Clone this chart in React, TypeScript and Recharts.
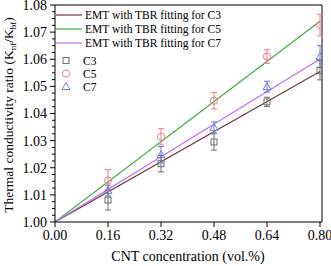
import {
  ComposedChart,
  Line,
  Scatter,
  ErrorBar,
  XAxis,
  YAxis,
  ReferenceLine,
  Legend,
} from "recharts";

const FONT = "'Liberation Serif', 'Times New Roman', serif";

// CNT concentration (vol.%)
const concentration = [0.16, 0.32, 0.48, 0.64, 0.8];

// measured ratios and error bars
const c3Values = [1.0081, 1.0215, 1.0295, 1.0443, 1.0559];
const c3Errors = [0.0037, 0.003, 0.003, 0.0017, 0.0035];
const c5Values = [1.0153, 1.0314, 1.0447, 1.061, 1.0726];
const c5Errors = [0.004, 0.003, 0.003, 0.0025, 0.004];
const c7Values = [1.0116, 1.0248, 1.0349, 1.0499, 1.061];
const c7Errors = [0.002, 0.003, 0.002, 0.002, 0.004];

// EMT with TBR fitting lines (end points)
const fitX = [0, 0.8];
const fitC3 = [1.0, 1.0555];
const fitC5 = [1.0, 1.074];
const fitC7 = [1.0, 1.0601];

const xTicks = [0, 0.16, 0.32, 0.48, 0.64, 0.8];
const yMajorTicks = [1.0, 1.01, 1.02, 1.03, 1.04, 1.05, 1.06, 1.07, 1.08];

const X_MAX = 0.806;

const colors = {
  c3Line: "#6e3d3d",
  c5Line: "#3fae3f",
  c7Line: "#c46ef2",
  c3: "#6f6f6f",
  c5: "#f07c8c",
  c7: "#6a82e0",
};

const yTicks: number[] = [];
yMajorTicks.forEach((t, i) => {
  yTicks.push(t);
  if (i < yMajorTicks.length - 1) {
    for (let k = 1; k < 4; k++) yTicks.push(+(t + k * 0.0025).toFixed(4));
  }
});

const toPoints = (vals: number[], errs: number[]) =>
  concentration.map((x, i) => ({ x, y: vals[i], err: errs[i] }));

const c3Data = toPoints(c3Values, c3Errors);
const c5Data = toPoints(c5Values, c5Errors);
const c7Data = toPoints(c7Values, c7Errors);

const fitData = fitX.map((x, i) => ({
  x,
  c3: fitC3[i],
  c5: fitC5[i],
  c7: fitC7[i],
}));

function YTick(props: any) {
  const { x, y, payload } = props;
  const v = payload.value as number;
  const major = yMajorTicks.some((m) => Math.abs(m - v) < 1e-6);
  return (
    <g>
      <line x1={x} x2={x - (major ? 5 : 3)} y1={y} y2={y} stroke="#000" />
      {major && (
        <text
          x={x - 8}
          y={y}
          dy="0.35em"
          textAnchor="end"
          fontSize={14}
          fontFamily={FONT}
          fill="#000"
        >
          {v.toFixed(2)}
        </text>
      )}
    </g>
  );
}

function Square(props: any) {
  const { cx, cy, color } = props;
  return <rect x={cx - 3} y={cy - 3} width={6} height={6} fill="none" stroke={color} />;
}

function Circle(props: any) {
  const { cx, cy, color } = props;
  return <circle cx={cx} cy={cy} r={3.6} fill="none" stroke={color} />;
}

function Triangle(props: any) {
  const { cx, cy, color } = props;
  return (
    <polygon
      points={`${cx},${cy - 4} ${cx - 4},${cy + 3} ${cx + 4},${cy + 3}`}
      fill="none"
      stroke={color}
    />
  );
}

function LegendBox() {
  const lines = [
    { label: "EMT with TBR fitting for C3", color: colors.c3Line },
    { label: "EMT with TBR fitting for C5", color: colors.c5Line },
    { label: "EMT with TBR fitting for C7", color: colors.c7Line },
  ];
  const marks = [
    { label: "C3", Shape: Square, color: colors.c3 },
    { label: "C5", Shape: Circle, color: colors.c5 },
    { label: "C7", Shape: Triangle, color: colors.c7 },
  ];
  return (
    <svg width={170} height={90} style={{ display: "block" }}>
      {lines.map((l, i) => (
        <g key={l.label}>
          <line x1={0} x2={26} y1={7 + i * 14} y2={7 + i * 14} stroke={l.color} strokeWidth={1.2} />
          <text x={29} y={7 + i * 14} dy="0.35em" fontSize={11.5} fontFamily={FONT} fill="#000">
            {l.label}
          </text>
        </g>
      ))}
      {marks.map((m, i) => (
        <g key={m.label}>
          <m.Shape cx={10} cy={52.5 + i * 13} color={m.color} />
          <text x={27} y={52.5 + i * 13} dy="0.35em" fontSize={11.5} fontFamily={FONT} fill="#000">
            {m.label}
          </text>
        </g>
      ))}
    </svg>
  );
}

function YLabel() {
  return (
    <text
      transform="translate(13,115) rotate(-90)"
      textAnchor="middle"
      fontSize={13.5}
      fontFamily={FONT}
      fill="#000"
    >
      Thermal conductivity ratio (K
      <tspan fontSize={9} dy={3}>nf</tspan>
      <tspan dy={-3}>/K</tspan>
      <tspan fontSize={9} dy={3}>bf</tspan>
      <tspan dy={-3}>)</tspan>
    </text>
  );
}

function XLabel() {
  return (
    <text x={188} y={261} textAnchor="middle" fontSize={14} fontFamily={FONT} fill="#000">
      CNT concentration (vol.%)
    </text>
  );
}

export default function App() {
  return (
    <div style={{ position: "absolute", left: 0, top: 0, width: 331, height: 266, background: "#fff" }}>
      <ComposedChart width={331} height={266} margin={{ top: 5, right: 9, bottom: 0, left: 0 }}>
        <XAxis
          type="number"
          dataKey="x"
          domain={[0, X_MAX]}
          ticks={xTicks}
          interval={0}
          tickFormatter={(v: number) => v.toFixed(2)}
          tick={{ fontSize: 14, fill: "#000", fontFamily: FONT }}
          tickSize={5}
          tickMargin={3}
          stroke="#000"
          height={44}
          label={{ content: XLabel }}
          allowDataOverflow
        />
        <YAxis
          type="number"
          domain={[1.0, 1.08]}
          ticks={yTicks}
          interval={0}
          tick={<YTick />}
          tickLine={false}
          tickSize={0}
          tickMargin={0}
          stroke="#000"
          width={55}
          label={{ content: YLabel }}
          allowDataOverflow
        />
        <ReferenceLine y={1.08} stroke="#000" />
        <ReferenceLine x={X_MAX} stroke="#000" />
        <Legend
          layout="vertical"
          align="center"
          verticalAlign="middle"
          content={() => <LegendBox />}
          wrapperStyle={{ top: 8, left: 56, width: "auto" }}
        />
        <Line data={fitData} dataKey="c3" stroke={colors.c3Line} strokeWidth={1.2} dot={false} isAnimationActive={false} />
        <Line data={fitData} dataKey="c5" stroke={colors.c5Line} strokeWidth={1.2} dot={false} isAnimationActive={false} />
        <Line data={fitData} dataKey="c7" stroke={colors.c7Line} strokeWidth={1.2} dot={false} isAnimationActive={false} />
        <Scatter data={c3Data} dataKey="y" shape={(p: any) => <Square {...p} color={colors.c3} />} isAnimationActive={false}>
          <ErrorBar dataKey="err" direction="y" width={3} stroke={colors.c3} strokeWidth={1} />
        </Scatter>
        <Scatter data={c5Data} dataKey="y" shape={(p: any) => <Circle {...p} color={colors.c5} />} isAnimationActive={false}>
          <ErrorBar dataKey="err" direction="y" width={3} stroke={colors.c5} strokeWidth={1} />
        </Scatter>
        <Scatter data={c7Data} dataKey="y" shape={(p: any) => <Triangle {...p} color={colors.c7} />} isAnimationActive={false}>
          <ErrorBar dataKey="err" direction="y" width={3} stroke={colors.c7} strokeWidth={1} />
        </Scatter>
      </ComposedChart>
    </div>
  );
}
